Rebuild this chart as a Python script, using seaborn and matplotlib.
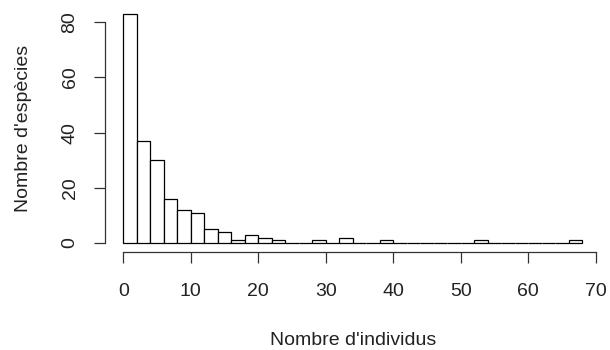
import matplotlib
matplotlib.use("Agg")
import matplotlib.pyplot as plt
import numpy as np
import seaborn as sns

# histogram bins of width 2, from 0 to 68
bin_edges = list(range(0, 70, 2))
species_counts = [83, 37, 30, 16, 12, 11, 5, 4, 1, 3, 2, 1, 0, 0, 1, 0, 2,
                  0, 0, 1, 0, 0, 0, 0, 0, 0, 1, 0, 0, 0, 0, 0, 0, 1]
x_ticks = [0, 10, 20, 30, 40, 50, 60, 70]
y_ticks = [0, 20, 40, 60, 80]

sns.set_style("white")
plt.rcParams["font.family"] = ["Liberation Sans", "DejaVu Sans"]

fig = plt.figure(figsize=(6.1, 3.5), dpi=100)
ax = fig.add_axes([0.172, 0.2794, 0.8126, 0.7069])

mids = np.array(bin_edges[:-1]) + 1
sns.histplot(x=mids, weights=species_counts, bins=bin_edges, ax=ax,
             color="white", edgecolor="black", linewidth=0.9, alpha=1)

ax.set_xlim(-2.72, 70.72)
ax.set_ylim(-3.32, 86.32)
ax.set_xticks(x_ticks)
ax.set_yticks(y_ticks)
ax.set_yticklabels([str(v) for v in y_ticks], rotation=90, va="center")

for side in ["top", "right"]:
    ax.spines[side].set_visible(False)
ax.spines["left"].set_bounds(0, 80)
ax.spines["bottom"].set_bounds(0, 70)
for side in ["left", "bottom"]:
    ax.spines[side].set_linewidth(0.9)
    ax.spines[side].set_color("#333333")

ax.tick_params(axis="both", direction="out", length=8, width=0.9,
               color="#333333", labelsize=14, labelcolor="#222222")
ax.tick_params(axis="x", pad=14.5)
ax.tick_params(axis="y", pad=11)
ax.tick_params(axis="both", which="both", bottom=True, left=True)

ax.set_xlabel("Nombre d'individus", fontsize=14, labelpad=23, color="#222222")
ax.set_ylabel("Nombre d'espècies", fontsize=14, labelpad=21, color="#222222")

fig.savefig("out.png", dpi=100)
